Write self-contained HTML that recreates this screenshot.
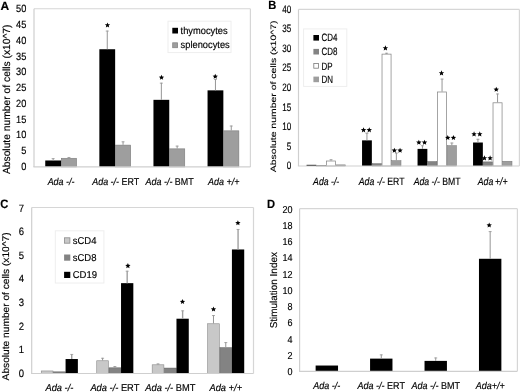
<!DOCTYPE html><html><head><meta charset="utf-8"><style>html,body{margin:0;padding:0;background:#fff;width:520px;height:392px;overflow:hidden}svg{display:block;filter:grayscale(1)}</style></head><body>
<svg width="520" height="392" viewBox="0 0 520 392" font-family="'Liberation Sans', sans-serif" fill="#000" text-rendering="geometricPrecision"><style>text{stroke:#000;stroke-width:0.16px}</style>
<rect x="0" y="0" width="520" height="392" fill="#fff"/>
<line x1="34" y1="8.75" x2="250.4" y2="8.75" stroke="#d6d6d6" stroke-width="1.2"/>
<line x1="250.4" y1="8.75" x2="250.4" y2="166.9" stroke="#d6d6d6" stroke-width="1.2"/>
<text transform="translate(26.3 169.8) scale(0.876 1)" font-size="10.5" text-anchor="end">0</text>
<text transform="translate(26.3 154.06) scale(0.876 1)" font-size="10.5" text-anchor="end">5</text>
<text transform="translate(26.3 138.32) scale(0.876 1)" font-size="10.5" text-anchor="end">10</text>
<text transform="translate(26.3 122.58) scale(0.876 1)" font-size="10.5" text-anchor="end">15</text>
<text transform="translate(26.3 106.84) scale(0.876 1)" font-size="10.5" text-anchor="end">20</text>
<text transform="translate(26.3 91.1) scale(0.876 1)" font-size="10.5" text-anchor="end">25</text>
<text transform="translate(26.3 75.36) scale(0.876 1)" font-size="10.5" text-anchor="end">30</text>
<text transform="translate(26.3 59.62) scale(0.876 1)" font-size="10.5" text-anchor="end">35</text>
<text transform="translate(26.3 43.88) scale(0.876 1)" font-size="10.5" text-anchor="end">40</text>
<text transform="translate(26.3 28.14) scale(0.876 1)" font-size="10.5" text-anchor="end">45</text>
<text transform="translate(26.3 12.4) scale(0.876 1)" font-size="10.5" text-anchor="end">50</text>
<rect x="45.25" y="160.48" width="15.8" height="6.42" fill="#000000"/>
<line x1="53.15" y1="160.48" x2="53.15" y2="158.23" stroke="#959595" stroke-width="1"/>
<line x1="51.65" y1="158.63" x2="54.65" y2="158.63" stroke="#959595" stroke-width="0.8"/>
<rect x="61.35" y="158.28" width="15.2" height="8.62" fill="#9e9e9e" stroke="#7a7a7a" stroke-width="0.6"/>
<line x1="68.95" y1="157.98" x2="68.95" y2="157.09" stroke="#959595" stroke-width="1"/>
<line x1="67.45" y1="157.49" x2="70.45" y2="157.49" stroke="#959595" stroke-width="0.8"/>
<rect x="99.35" y="49.24" width="15.8" height="117.66" fill="#000000"/>
<line x1="107.25" y1="49.24" x2="107.25" y2="30.67" stroke="#959595" stroke-width="1"/>
<line x1="105.75" y1="31.07" x2="108.75" y2="31.07" stroke="#959595" stroke-width="0.8"/>
<rect x="115.45" y="145.12" width="15.2" height="21.78" fill="#9e9e9e" stroke="#7a7a7a" stroke-width="0.6"/>
<line x1="123.05" y1="144.82" x2="123.05" y2="141.44" stroke="#959595" stroke-width="1"/>
<line x1="121.55" y1="141.84" x2="124.55" y2="141.84" stroke="#959595" stroke-width="0.8"/>
<rect x="153.45" y="99.84" width="15.8" height="67.06" fill="#000000"/>
<line x1="161.35" y1="99.84" x2="161.35" y2="82.76" stroke="#959595" stroke-width="1"/>
<line x1="159.85" y1="83.16" x2="162.85" y2="83.16" stroke="#959595" stroke-width="0.8"/>
<rect x="169.55" y="148.85" width="15.2" height="18.05" fill="#9e9e9e" stroke="#7a7a7a" stroke-width="0.6"/>
<line x1="177.15" y1="148.55" x2="177.15" y2="145.71" stroke="#959595" stroke-width="1"/>
<line x1="175.65" y1="146.11" x2="178.65" y2="146.11" stroke="#959595" stroke-width="0.8"/>
<rect x="207.55" y="90.36" width="15.8" height="76.54" fill="#000000"/>
<line x1="215.45" y1="90.36" x2="215.45" y2="78.97" stroke="#959595" stroke-width="1"/>
<line x1="213.95" y1="79.37" x2="216.95" y2="79.37" stroke="#959595" stroke-width="0.8"/>
<rect x="223.65" y="130.83" width="15.2" height="36.07" fill="#9e9e9e" stroke="#7a7a7a" stroke-width="0.6"/>
<line x1="231.25" y1="130.53" x2="231.25" y2="125.62" stroke="#959595" stroke-width="1"/>
<line x1="229.75" y1="126.02" x2="232.75" y2="126.02" stroke="#959595" stroke-width="0.8"/>
<polygon points="107.5,22.38 108.24,24.16 110.16,24.31 108.7,25.57 109.15,27.45 107.5,26.44 105.85,27.45 106.3,25.57 104.84,24.31 106.76,24.16" fill="#000"/>
<polygon points="161.5,74.78 162.24,76.56 164.16,76.71 162.7,77.97 163.15,79.85 161.5,78.84 159.85,79.85 160.3,77.97 158.84,76.71 160.76,76.56" fill="#000"/>
<polygon points="215.25,73.78 215.99,75.56 217.91,75.71 216.45,76.97 216.9,78.85 215.25,77.84 213.6,78.85 214.05,76.97 212.59,75.71 214.51,75.56" fill="#000"/>
<line x1="33.4" y1="166.9" x2="250.4" y2="166.9" stroke="#cfcfcf" stroke-width="1.2"/>
<line x1="34" y1="8.75" x2="34" y2="166.9" stroke="#cfcfcf" stroke-width="1.2"/>
<text transform="translate(61.05 185.1) scale(0.893 1)" font-size="10" text-anchor="middle"><tspan font-style="italic">Ada -/-</tspan></text>
<text transform="translate(115.75 185.1) scale(0.893 1)" font-size="10" text-anchor="middle"><tspan font-style="italic">Ada -/-</tspan> ERT</text>
<text transform="translate(169.65 185.1) scale(0.893 1)" font-size="10" text-anchor="middle"><tspan font-style="italic">Ada -/-</tspan> BMT</text>
<text transform="translate(223.75 185.1) scale(0.893 1)" font-size="10" text-anchor="middle"><tspan font-style="italic">Ada +/+</tspan></text>
<text transform="translate(9.7 99.3) scale(1.0 1) rotate(-90)" font-size="10.3" text-anchor="middle">Absolute number of cells (x10^7)</text>
<text transform="translate(0.4 10) scale(1.0 1)" font-size="12" font-weight="bold">A</text>
<rect x="168" y="21.2" width="63" height="31.4" fill="#fff" stroke="#eeeeee" stroke-width="1"/>
<rect x="172.3" y="27.8" width="5.7" height="5.7" fill="#000000"/>
<text transform="translate(180.6 34.1) scale(0.93 1)" font-size="10" text-anchor="start">thymocytes</text>
<rect x="172.7" y="42.8" width="4.9" height="4.9" fill="#9e9e9e" stroke="#858585" stroke-width="0.8"/>
<text transform="translate(180.6 48.4) scale(0.93 1)" font-size="10" text-anchor="start">splenocytes</text>
<line x1="298.5" y1="9.4" x2="519.4" y2="9.4" stroke="#d6d6d6" stroke-width="1.2"/>
<line x1="519.4" y1="9.4" x2="519.4" y2="166" stroke="#d6d6d6" stroke-width="1.2"/>
<text transform="translate(291.2 169.1) scale(0.75 1)" font-size="10.8" text-anchor="end">0</text>
<text transform="translate(291.2 149.57) scale(0.75 1)" font-size="10.8" text-anchor="end">5</text>
<text transform="translate(291.2 130.05) scale(0.75 1)" font-size="10.8" text-anchor="end">10</text>
<text transform="translate(291.2 110.53) scale(0.75 1)" font-size="10.8" text-anchor="end">15</text>
<text transform="translate(291.2 91) scale(0.75 1)" font-size="10.8" text-anchor="end">20</text>
<text transform="translate(291.2 71.47) scale(0.75 1)" font-size="10.8" text-anchor="end">25</text>
<text transform="translate(291.2 51.95) scale(0.75 1)" font-size="10.8" text-anchor="end">30</text>
<text transform="translate(291.2 32.43) scale(0.75 1)" font-size="10.8" text-anchor="end">35</text>
<text transform="translate(291.2 12.9) scale(0.75 1)" font-size="10.8" text-anchor="end">40</text>
<rect x="306.55" y="164.83" width="9.8" height="1.17" fill="#000000"/>
<rect x="316.6" y="165.66" width="9.3" height="0.34" fill="#838383" stroke="#606060" stroke-width="0.5"/>
<rect x="326.52" y="161.01" width="9.05" height="4.99" fill="#ffffff" stroke="#878787" stroke-width="0.75"/>
<line x1="331.05" y1="160.64" x2="331.05" y2="159.34" stroke="#959595" stroke-width="1"/>
<line x1="329.55" y1="159.74" x2="332.55" y2="159.74" stroke="#959595" stroke-width="0.8"/>
<rect x="336.2" y="164.88" width="9.3" height="1.12" fill="#9e9e9e" stroke="#777777" stroke-width="0.5"/>
<rect x="362.05" y="140.36" width="9.8" height="25.64" fill="#000000"/>
<line x1="366.95" y1="140.36" x2="366.95" y2="132.84" stroke="#959595" stroke-width="1"/>
<line x1="365.45" y1="133.24" x2="368.45" y2="133.24" stroke="#959595" stroke-width="0.8"/>
<rect x="372.1" y="163.74" width="9.3" height="2.26" fill="#838383" stroke="#606060" stroke-width="0.5"/>
<rect x="382.02" y="54.13" width="9.05" height="111.87" fill="#ffffff" stroke="#878787" stroke-width="0.75"/>
<line x1="386.55" y1="53.76" x2="386.55" y2="52.86" stroke="#959595" stroke-width="1"/>
<line x1="385.05" y1="53.26" x2="388.05" y2="53.26" stroke="#959595" stroke-width="0.8"/>
<rect x="391.7" y="160.65" width="9.3" height="5.35" fill="#9e9e9e" stroke="#777777" stroke-width="0.5"/>
<line x1="396.35" y1="160.4" x2="396.35" y2="152.69" stroke="#959595" stroke-width="1"/>
<line x1="394.85" y1="153.09" x2="397.85" y2="153.09" stroke="#959595" stroke-width="0.8"/>
<rect x="417.55" y="148.89" width="9.8" height="17.11" fill="#000000"/>
<line x1="422.45" y1="148.89" x2="422.45" y2="145.37" stroke="#959595" stroke-width="1"/>
<line x1="420.95" y1="145.77" x2="423.95" y2="145.77" stroke="#959595" stroke-width="0.8"/>
<rect x="427.6" y="161.63" width="9.3" height="4.37" fill="#838383" stroke="#606060" stroke-width="0.5"/>
<rect x="437.52" y="91.99" width="9.05" height="74.01" fill="#ffffff" stroke="#878787" stroke-width="0.75"/>
<line x1="442.05" y1="91.61" x2="442.05" y2="78.7" stroke="#959595" stroke-width="1"/>
<line x1="440.55" y1="79.1" x2="443.55" y2="79.1" stroke="#959595" stroke-width="0.8"/>
<rect x="447.2" y="145.62" width="9.3" height="20.38" fill="#9e9e9e" stroke="#777777" stroke-width="0.5"/>
<line x1="451.85" y1="145.37" x2="451.85" y2="142.63" stroke="#959595" stroke-width="1"/>
<line x1="450.35" y1="143.03" x2="453.35" y2="143.03" stroke="#959595" stroke-width="0.8"/>
<rect x="473.05" y="142.51" width="9.8" height="23.49" fill="#000000"/>
<line x1="477.95" y1="142.51" x2="477.95" y2="138.87" stroke="#959595" stroke-width="1"/>
<line x1="476.45" y1="139.27" x2="479.45" y2="139.27" stroke="#959595" stroke-width="0.8"/>
<rect x="483.1" y="161.9" width="9.3" height="4.1" fill="#838383" stroke="#606060" stroke-width="0.5"/>
<rect x="493.02" y="102.8" width="9.05" height="63.2" fill="#ffffff" stroke="#878787" stroke-width="0.75"/>
<line x1="497.55" y1="102.42" x2="497.55" y2="93.57" stroke="#959595" stroke-width="1"/>
<line x1="496.05" y1="93.97" x2="499.05" y2="93.97" stroke="#959595" stroke-width="0.8"/>
<rect x="502.7" y="161.24" width="9.3" height="4.76" fill="#9e9e9e" stroke="#777777" stroke-width="0.5"/>
<polygon points="363.55,127.24 364.3,129.05 366.26,129.2 364.77,130.48 365.23,132.39 363.55,131.37 361.87,132.39 362.33,130.48 360.84,129.2 362.8,129.05" fill="#000"/>
<polygon points="369.25,127.24 370,129.05 371.96,129.2 370.47,130.48 370.93,132.39 369.25,131.37 367.57,132.39 368.03,130.48 366.54,129.2 368.5,129.05" fill="#000"/>
<polygon points="394.35,147.63 395.1,149.45 397.06,149.6 395.57,150.88 396.03,152.79 394.35,151.77 392.67,152.79 393.13,150.88 391.64,149.6 393.6,149.45" fill="#000"/>
<polygon points="400.05,147.63 400.8,149.45 402.76,149.6 401.27,150.88 401.73,152.79 400.05,151.77 398.37,152.79 398.83,150.88 397.34,149.6 399.3,149.45" fill="#000"/>
<polygon points="385.4,45.33 386.15,47.15 388.11,47.3 386.62,48.58 387.08,50.49 385.4,49.47 383.72,50.49 384.18,48.58 382.69,47.3 384.65,47.15" fill="#000"/>
<polygon points="418.85,139.63 419.6,141.45 421.56,141.6 420.07,142.88 420.53,144.79 418.85,143.77 417.17,144.79 417.63,142.88 416.14,141.6 418.1,141.45" fill="#000"/>
<polygon points="424.55,139.63 425.3,141.45 427.26,141.6 425.77,142.88 426.23,144.79 424.55,143.77 422.87,144.79 423.33,142.88 421.84,141.6 423.8,141.45" fill="#000"/>
<polygon points="447.75,134.94 448.5,136.75 450.46,136.9 448.97,138.18 449.43,140.09 447.75,139.07 446.07,140.09 446.53,138.18 445.04,136.9 447,136.75" fill="#000"/>
<polygon points="453.45,134.94 454.2,136.75 456.16,136.9 454.67,138.18 455.13,140.09 453.45,139.07 451.77,140.09 452.23,138.18 450.74,136.9 452.7,136.75" fill="#000"/>
<polygon points="441.5,70.34 442.25,72.15 444.21,72.3 442.72,73.58 443.18,75.49 441.5,74.47 439.82,75.49 440.28,73.58 438.79,72.3 440.75,72.15" fill="#000"/>
<polygon points="474.05,131.34 474.8,133.15 476.76,133.3 475.27,134.58 475.73,136.49 474.05,135.47 472.37,136.49 472.83,134.58 471.34,133.3 473.3,133.15" fill="#000"/>
<polygon points="479.75,131.34 480.5,133.15 482.46,133.3 480.97,134.58 481.43,136.49 479.75,135.47 478.07,136.49 478.53,134.58 477.04,133.3 479,133.15" fill="#000"/>
<polygon points="484.4,155.34 485.15,157.15 487.11,157.3 485.62,158.58 486.08,160.49 484.4,159.47 482.72,160.49 483.18,158.58 481.69,157.3 483.65,157.15" fill="#000"/>
<polygon points="490.1,155.34 490.85,157.15 492.81,157.3 491.32,158.58 491.78,160.49 490.1,159.47 488.42,160.49 488.88,158.58 487.39,157.3 489.35,157.15" fill="#000"/>
<polygon points="496.25,86.69 497,88.5 498.96,88.65 497.47,89.93 497.93,91.84 496.25,90.82 494.57,91.84 495.03,89.93 493.54,88.65 495.5,88.5" fill="#000"/>
<line x1="297.9" y1="166" x2="519.4" y2="166" stroke="#cfcfcf" stroke-width="1.2"/>
<line x1="298.5" y1="9.4" x2="298.5" y2="166" stroke="#cfcfcf" stroke-width="1.2"/>
<text transform="translate(326.15 184.9) scale(0.82 1)" font-size="10.6" text-anchor="middle"><tspan font-style="italic">Ada -/-</tspan></text>
<text transform="translate(381.65 184.9) scale(0.82 1)" font-size="10.6" text-anchor="middle"><tspan font-style="italic">Ada -/-</tspan> ERT</text>
<text transform="translate(437.15 184.9) scale(0.82 1)" font-size="10.6" text-anchor="middle"><tspan font-style="italic">Ada -/-</tspan> BMT</text>
<text transform="translate(492.65 184.9) scale(0.82 1)" font-size="10.6" text-anchor="middle"><tspan font-style="italic">Ada&#8201;+/+</tspan></text>
<text transform="translate(276 96.3) scale(0.75 1) rotate(-90)" font-size="10.45" text-anchor="middle">Absolute number of cells (x10^7)</text>
<text transform="translate(268.2 9) scale(0.93 1)" font-size="12" font-weight="bold">B</text>
<rect x="303.6" y="28.9" width="43.2" height="57.5" fill="#fff" stroke="#eeeeee" stroke-width="1"/>
<rect x="313.4" y="35" width="5.6" height="5.6" fill="#000000"/>
<text transform="translate(321.6 41.4) scale(0.75 1)" font-size="10.6" text-anchor="start">CD4</text>
<rect x="313.4" y="48.9" width="5.6" height="5.6" fill="#838383"/>
<text transform="translate(321.6 55.4) scale(0.75 1)" font-size="10.6" text-anchor="start">CD8</text>
<rect x="313.8" y="63.4" width="4.8" height="4.8" fill="#fff" stroke="#7a7a7a" stroke-width="0.8"/>
<text transform="translate(321.6 69.5) scale(0.75 1)" font-size="10.6" text-anchor="start">DP</text>
<rect x="313.4" y="76.6" width="5.6" height="5.6" fill="#9e9e9e"/>
<text transform="translate(321.6 83.2) scale(0.75 1)" font-size="10.6" text-anchor="start">DN</text>
<line x1="31.7" y1="207.5" x2="253.5" y2="207.5" stroke="#d6d6d6" stroke-width="1.2"/>
<line x1="253.5" y1="207.5" x2="253.5" y2="373.5" stroke="#d6d6d6" stroke-width="1.2"/>
<text transform="translate(24 376.7) scale(0.896 1)" font-size="10.6" text-anchor="end">0</text>
<text transform="translate(24 353.13) scale(0.896 1)" font-size="10.6" text-anchor="end">1</text>
<text transform="translate(24 329.56) scale(0.896 1)" font-size="10.6" text-anchor="end">2</text>
<text transform="translate(24 305.99) scale(0.896 1)" font-size="10.6" text-anchor="end">3</text>
<text transform="translate(24 282.42) scale(0.896 1)" font-size="10.6" text-anchor="end">4</text>
<text transform="translate(24 258.85) scale(0.896 1)" font-size="10.6" text-anchor="end">5</text>
<text transform="translate(24 235.28) scale(0.896 1)" font-size="10.6" text-anchor="end">6</text>
<text transform="translate(24 211.71) scale(0.896 1)" font-size="10.6" text-anchor="end">7</text>
<rect x="41.27" y="370.95" width="11.7" height="2.55" fill="#c8c8c8" stroke="#8a8a8a" stroke-width="0.6"/>
<rect x="53.52" y="371.85" width="11.8" height="1.65" fill="#838383" stroke="#5c5c5c" stroke-width="0.5"/>
<rect x="65.57" y="359.03" width="12.3" height="14.47" fill="#000000"/>
<line x1="71.72" y1="359.03" x2="71.72" y2="354.05" stroke="#a0a0a0" stroke-width="1.4"/>
<line x1="70.22" y1="354.45" x2="73.22" y2="354.45" stroke="#a0a0a0" stroke-width="0.8"/>
<rect x="96.73" y="360.76" width="11.7" height="12.74" fill="#c8c8c8" stroke="#8a8a8a" stroke-width="0.6"/>
<line x1="102.58" y1="360.46" x2="102.58" y2="357.85" stroke="#959595" stroke-width="1"/>
<line x1="101.08" y1="358.25" x2="104.08" y2="358.25" stroke="#959595" stroke-width="0.8"/>
<rect x="108.98" y="367.82" width="11.8" height="5.68" fill="#838383" stroke="#5c5c5c" stroke-width="0.5"/>
<line x1="114.88" y1="367.57" x2="114.88" y2="366.15" stroke="#959595" stroke-width="1"/>
<line x1="113.38" y1="366.55" x2="116.38" y2="366.55" stroke="#959595" stroke-width="0.8"/>
<rect x="121.03" y="283.15" width="12.3" height="90.35" fill="#000000"/>
<line x1="127.18" y1="283.15" x2="127.18" y2="270.82" stroke="#a0a0a0" stroke-width="1.4"/>
<line x1="125.68" y1="271.22" x2="128.68" y2="271.22" stroke="#a0a0a0" stroke-width="0.8"/>
<rect x="152.18" y="364.79" width="11.7" height="8.71" fill="#c8c8c8" stroke="#8a8a8a" stroke-width="0.6"/>
<line x1="158.03" y1="364.49" x2="158.03" y2="363.54" stroke="#959595" stroke-width="1"/>
<line x1="156.53" y1="363.94" x2="159.53" y2="363.94" stroke="#959595" stroke-width="0.8"/>
<rect x="164.43" y="368.06" width="11.8" height="5.44" fill="#838383" stroke="#5c5c5c" stroke-width="0.5"/>
<rect x="176.47" y="318.72" width="12.3" height="54.78" fill="#000000"/>
<line x1="182.62" y1="318.72" x2="182.62" y2="310.42" stroke="#a0a0a0" stroke-width="1.4"/>
<line x1="181.12" y1="310.82" x2="184.12" y2="310.82" stroke="#a0a0a0" stroke-width="0.8"/>
<rect x="207.62" y="323.76" width="11.7" height="49.74" fill="#c8c8c8" stroke="#8a8a8a" stroke-width="0.6"/>
<line x1="213.47" y1="323.46" x2="213.47" y2="315.16" stroke="#959595" stroke-width="1"/>
<line x1="211.97" y1="315.56" x2="214.97" y2="315.56" stroke="#959595" stroke-width="0.8"/>
<rect x="219.88" y="347.66" width="11.8" height="25.84" fill="#838383" stroke="#5c5c5c" stroke-width="0.5"/>
<line x1="225.78" y1="347.41" x2="225.78" y2="342.2" stroke="#959595" stroke-width="1"/>
<line x1="224.28" y1="342.6" x2="227.28" y2="342.6" stroke="#959595" stroke-width="0.8"/>
<rect x="231.92" y="249.47" width="12.3" height="124.03" fill="#000000"/>
<line x1="238.07" y1="249.47" x2="238.07" y2="229.08" stroke="#a0a0a0" stroke-width="1.4"/>
<line x1="236.57" y1="229.48" x2="239.57" y2="229.48" stroke="#a0a0a0" stroke-width="0.8"/>
<polygon points="127.9,263.08 128.64,264.86 130.56,265.01 129.1,266.27 129.55,268.15 127.9,267.14 126.25,268.15 126.7,266.27 125.24,265.01 127.16,264.86" fill="#000"/>
<polygon points="182.5,298.98 183.24,300.76 185.16,300.91 183.7,302.17 184.15,304.05 182.5,303.04 180.85,304.05 181.3,302.17 179.84,300.91 181.76,300.76" fill="#000"/>
<polygon points="237.9,220.23 238.64,222.01 240.56,222.16 239.1,223.42 239.55,225.3 237.9,224.29 236.25,225.3 236.7,223.42 235.24,222.16 237.16,222.01" fill="#000"/>
<polygon points="213.5,306.48 214.24,308.26 216.16,308.41 214.7,309.67 215.15,311.55 213.5,310.54 211.85,311.55 212.3,309.67 210.84,308.41 212.76,308.26" fill="#000"/>
<line x1="31.1" y1="373.5" x2="253.5" y2="373.5" stroke="#cfcfcf" stroke-width="1.2"/>
<line x1="31.7" y1="207.5" x2="31.7" y2="373.5" stroke="#cfcfcf" stroke-width="1.2"/>
<text transform="translate(59.42 391.2) scale(0.93 1)" font-size="10" text-anchor="middle"><tspan font-style="italic">Ada -/-</tspan></text>
<text transform="translate(114.88 391.2) scale(0.93 1)" font-size="10" text-anchor="middle"><tspan font-style="italic">Ada -/-</tspan> ERT</text>
<text transform="translate(170.32 391.2) scale(0.93 1)" font-size="10" text-anchor="middle"><tspan font-style="italic">Ada -/-</tspan> BMT</text>
<text transform="translate(225.78 391.2) scale(0.93 1)" font-size="10" text-anchor="middle"><tspan font-style="italic">Ada +/+</tspan></text>
<text transform="translate(9.4 306.4) scale(0.95 1) rotate(-90)" font-size="10.2" text-anchor="middle">Absolute number of cells (x10^7)</text>
<text transform="translate(0.3 208) scale(0.92 1)" font-size="12.2" font-weight="bold">C</text>
<rect x="55.3" y="230.8" width="48.6" height="52.2" fill="#fff" stroke="#eeeeee" stroke-width="1"/>
<rect x="64.5" y="237.8" width="5.4" height="5.4" fill="#c8c8c8" stroke="#8a8a8a" stroke-width="0.8"/>
<text transform="translate(72.7 243.8) scale(0.95 1)" font-size="10" text-anchor="start">sCD4</text>
<rect x="64.1" y="254.5" width="6.2" height="6.2" fill="#838383"/>
<text transform="translate(72.7 261) scale(0.95 1)" font-size="10" text-anchor="start">sCD8</text>
<rect x="64.1" y="271.8" width="6.2" height="6.2" fill="#000000"/>
<text transform="translate(72.7 278.3) scale(0.95 1)" font-size="10" text-anchor="start">CD19</text>
<line x1="299.6" y1="208.7" x2="517.4" y2="208.7" stroke="#d6d6d6" stroke-width="1.2"/>
<line x1="517.4" y1="208.7" x2="517.4" y2="371.3" stroke="#d6d6d6" stroke-width="1.2"/>
<text transform="translate(292.5 375.18) scale(0.9 1)" font-size="10" text-anchor="end">0</text>
<text transform="translate(292.5 358.92) scale(0.9 1)" font-size="10" text-anchor="end">2</text>
<text transform="translate(292.5 342.66) scale(0.9 1)" font-size="10" text-anchor="end">4</text>
<text transform="translate(292.5 326.4) scale(0.9 1)" font-size="10" text-anchor="end">6</text>
<text transform="translate(292.5 310.14) scale(0.9 1)" font-size="10" text-anchor="end">8</text>
<text transform="translate(292.5 293.88) scale(0.9 1)" font-size="10" text-anchor="end">10</text>
<text transform="translate(292.5 277.62) scale(0.9 1)" font-size="10" text-anchor="end">12</text>
<text transform="translate(292.5 261.36) scale(0.9 1)" font-size="10" text-anchor="end">14</text>
<text transform="translate(292.5 245.1) scale(0.9 1)" font-size="10" text-anchor="end">16</text>
<text transform="translate(292.5 228.84) scale(0.9 1)" font-size="10" text-anchor="end">18</text>
<text transform="translate(292.5 212.58) scale(0.9 1)" font-size="10" text-anchor="end">20</text>
<rect x="315.63" y="365.53" width="22.4" height="5.77" fill="#000000"/>
<rect x="370.07" y="358.62" width="22.4" height="12.68" fill="#000000"/>
<line x1="381.27" y1="358.62" x2="381.27" y2="354.47" stroke="#959595" stroke-width="1"/>
<line x1="379.77" y1="354.87" x2="382.77" y2="354.87" stroke="#959595" stroke-width="0.8"/>
<rect x="424.53" y="360.89" width="22.4" height="10.41" fill="#000000"/>
<line x1="435.73" y1="360.89" x2="435.73" y2="357.56" stroke="#959595" stroke-width="1"/>
<line x1="434.23" y1="357.96" x2="437.23" y2="357.96" stroke="#959595" stroke-width="0.8"/>
<rect x="478.97" y="258.78" width="22.4" height="112.52" fill="#000000"/>
<line x1="490.17" y1="258.78" x2="490.17" y2="231.22" stroke="#959595" stroke-width="1"/>
<line x1="488.67" y1="231.62" x2="491.67" y2="231.62" stroke="#959595" stroke-width="0.8"/>
<polygon points="489.2,222.48 489.94,224.26 491.86,224.41 490.4,225.67 490.85,227.55 489.2,226.54 487.55,227.55 488,225.67 486.54,224.41 488.46,224.26" fill="#000"/>
<line x1="299" y1="371.3" x2="517.4" y2="371.3" stroke="#cfcfcf" stroke-width="1.2"/>
<line x1="299.6" y1="208.7" x2="299.6" y2="371.3" stroke="#cfcfcf" stroke-width="1.2"/>
<text transform="translate(326.83 388.8) scale(0.9 1)" font-size="10" text-anchor="middle"><tspan font-style="italic">Ada -/-</tspan></text>
<text transform="translate(381.27 388.8) scale(0.9 1)" font-size="10" text-anchor="middle"><tspan font-style="italic">Ada -/-</tspan> ERT</text>
<text transform="translate(435.73 388.8) scale(0.9 1)" font-size="10" text-anchor="middle"><tspan font-style="italic">Ada -/-</tspan> BMT</text>
<text transform="translate(490.17 388.8) scale(0.9 1)" font-size="10" text-anchor="middle"><tspan font-style="italic">Ada+/+</tspan></text>
<text transform="translate(277.3 290.2) scale(1.0 1) rotate(-90)" font-size="9.95" text-anchor="middle">Stimulation Index</text>
<text transform="translate(266.9 208) scale(0.93 1)" font-size="12" font-weight="bold">D</text>
</svg></body></html>
